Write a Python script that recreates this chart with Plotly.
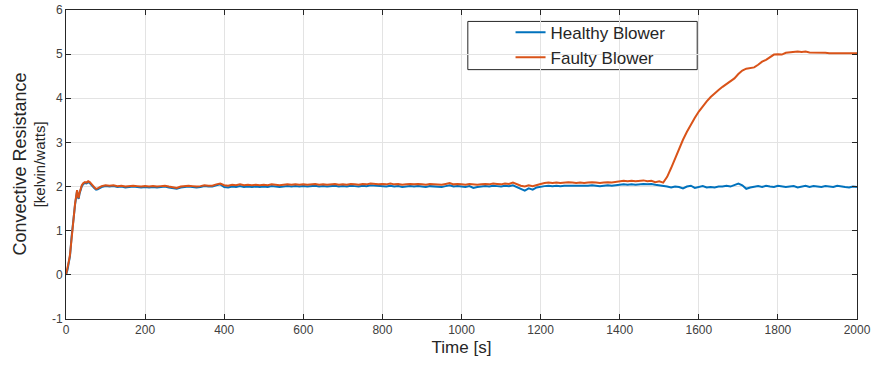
import plotly.graph_objects as go

# ---- data ----
t_early = [0, 4, 7, 10, 14, 18, 21, 23, 26, 28, 30, 32, 34, 37, 40, 44, 48, 52, 56, 60,
           64, 68, 72, 76, 80, 85, 90, 95]
faulty_early = [0.0, 0.15, 0.3, 0.45, 0.87, 1.25, 1.45, 1.62, 1.8, 1.92, 1.78, 1.74, 1.85, 1.97,
                2.03, 2.08, 2.1, 2.09, 2.12, 2.1, 2.05, 2.02, 1.98, 1.95, 1.96, 1.99, 2.01, 2.02]
healthy_early = [0.0, 0.12, 0.28, 0.42, 0.85, 1.22, 1.43, 1.6, 1.78, 1.9, 1.76, 1.72, 1.83, 1.95,
                 2.01, 2.06, 2.08, 2.07, 2.1, 2.08, 2.03, 2.0, 1.96, 1.93, 1.94, 1.97, 1.99, 2.0]

t_main = list(range(100, 2001, 10))

faulty_main = [
    2.03, 2.02, 2.03, 2.01, 2.02, 2.00, 2.01, 2.02, 2.01, 2.00,   # 100
    2.01, 2.00, 2.01, 2.00, 2.01, 2.02, 2.00, 1.98, 1.97, 2.00,   # 200
    2.01, 2.02, 2.01, 2.00, 2.01, 2.03, 2.02, 2.02, 2.05, 2.07,   # 300
    2.03, 2.02, 2.04, 2.03, 2.05, 2.03, 2.04, 2.03, 2.04, 2.03,   # 400
    2.04, 2.03, 2.05, 2.04, 2.03, 2.04, 2.05, 2.04, 2.05, 2.04,   # 500
    2.05, 2.04, 2.05, 2.06, 2.04, 2.05, 2.04, 2.05, 2.06, 2.04,   # 600
    2.05, 2.04, 2.06, 2.05, 2.04, 2.06, 2.05, 2.07, 2.06, 2.05,   # 700
    2.06, 2.05, 2.07, 2.05, 2.06, 2.04, 2.05, 2.06, 2.05, 2.06,   # 800
    2.05, 2.04, 2.06, 2.05, 2.05, 2.04, 2.06, 2.08, 2.05, 2.06,   # 900
    2.05, 2.04, 2.06, 2.05, 2.04, 2.05, 2.06, 2.05, 2.07, 2.06,   # 1000
    2.05, 2.07, 2.06, 2.09, 2.05, 2.02, 2.00, 2.03, 2.01, 2.04,   # 1100
    2.06, 2.08, 2.09, 2.08, 2.09, 2.08, 2.09, 2.10, 2.09, 2.08,   # 1200
    2.09, 2.08, 2.09, 2.10, 2.09, 2.08, 2.09, 2.10, 2.09, 2.10,   # 1300
    2.12, 2.13, 2.12, 2.13, 2.12, 2.13, 2.14, 2.12, 2.13, 2.10,   # 1400
    2.12, 2.09, 2.22, 2.42, 2.64, 2.86, 3.06, 3.24, 3.41, 3.56,   # 1500
    3.70, 3.82, 3.93, 4.03, 4.12, 4.19, 4.26, 4.32, 4.38, 4.45,   # 1600
    4.55, 4.63, 4.67, 4.68, 4.70, 4.76, 4.83, 4.87, 4.94, 4.99,   # 1700
    5.00, 4.99, 5.03, 5.04, 5.06, 5.06, 5.05, 5.06, 5.04, 5.04,   # 1800
    5.03, 5.04, 5.03, 5.02, 5.02, 5.02, 5.01, 5.02, 5.02, 5.02,   # 1900
    5.02,                                                         # 2000
]

healthy_main = [
    2.01, 2.00, 2.01, 1.99, 2.00, 1.98, 1.99, 2.00, 1.99, 1.98,   # 100
    1.99, 1.98, 1.99, 1.98, 1.99, 2.00, 1.98, 1.96, 1.95, 1.98,   # 200
    1.99, 2.00, 1.99, 1.98, 1.99, 2.01, 2.00, 2.00, 2.03, 2.05,   # 300
    1.99, 1.98, 2.00, 1.99, 2.01, 1.99, 2.00, 1.99, 2.00, 1.99,   # 400
    2.00, 1.99, 2.01, 2.00, 1.99, 2.00, 2.01, 2.00, 2.01, 2.00,   # 500
    2.01, 2.00, 2.01, 2.02, 2.00, 2.01, 2.00, 2.01, 2.02, 2.00,   # 600
    2.01, 2.00, 2.02, 2.01, 2.00, 2.02, 2.01, 2.03, 2.02, 2.01,   # 700
    2.01, 2.00, 2.02, 2.00, 2.01, 1.99, 2.00, 2.01, 2.00, 2.01,   # 800
    2.00, 1.99, 2.01, 2.00, 2.00, 1.99, 2.01, 2.03, 2.00, 2.01,   # 900
    2.00, 1.99, 2.01, 1.97, 1.99, 2.00, 2.01, 2.00, 2.02, 2.01,   # 1000
    2.00, 2.02, 2.01, 2.03, 1.99, 1.94, 1.91, 1.96, 1.93, 1.98,   # 1100
    2.00, 2.01, 2.02, 2.01, 2.02, 2.01, 2.02, 2.02, 2.01, 2.02,   # 1200
    2.02, 2.01, 2.02, 2.03, 2.02, 2.01, 2.02, 2.03, 2.02, 2.03,   # 1300
    2.04, 2.05, 2.04, 2.05, 2.04, 2.05, 2.06, 2.05, 2.06, 2.04,   # 1400
    2.03, 2.01, 2.00, 1.98, 2.00, 1.99, 1.96, 2.00, 2.02, 1.97,   # 1500
    1.99, 2.01, 1.98, 1.99, 1.98, 2.00, 2.00, 2.02, 2.00, 2.03,   # 1600
    2.07, 2.03, 1.95, 1.98, 2.00, 2.01, 1.99, 2.02, 2.00, 1.99,   # 1700
    2.02, 2.00, 1.99, 2.00, 2.01, 1.98, 2.00, 2.02, 1.99, 2.01,   # 1800
    2.00, 1.99, 2.01, 2.00, 1.99, 2.02, 2.00, 1.99, 1.98, 2.00,   # 1900
    1.99,                                                         # 2000
]

time_s = t_early + t_main
healthy = healthy_early + healthy_main
faulty = faulty_early + faulty_main

series_names = ["Healthy Blower", "Faulty Blower"]
x_ticks = [0, 200, 400, 600, 800, 1000, 1200, 1400, 1600, 1800, 2000]
y_ticks = [-1, 0, 1, 2, 3, 4, 5, 6]
y_tick_labels = ["-1", "0", "1", "2", "3", "4", "5", "6"]

FONT = "Liberation Sans, Arial, Helvetica, sans-serif"

# ---- figure ----
fig = go.Figure()
fig.add_trace(go.Scatter(x=time_s, y=healthy, mode="lines", name=series_names[0],
                         line=dict(color="#0072BD", width=2)))
fig.add_trace(go.Scatter(x=time_s, y=faulty, mode="lines", name=series_names[1],
                         line=dict(color="#D95319", width=2)))

axis_common = dict(
    showline=True, linecolor="#262626", linewidth=1, mirror="ticks",
    ticks="inside", ticklen=5, tickcolor="#262626", tickwidth=1,
    showgrid=True, gridcolor="#e3e3e3", gridwidth=1, zeroline=False,
    automargin=False,
    tickfont=dict(family=FONT, size=12, color="#404040"),
)

fig.update_layout(
    width=876, height=366,
    margin=dict(l=66, r=19, t=10, b=47),
    paper_bgcolor="white", plot_bgcolor="white",
    font=dict(family=FONT, color="#262626"),
    xaxis=dict(axis_common, range=[0, 2000], tickvals=x_ticks,
               title=dict(text="Time [s]", font=dict(size=17, color="#262626"), standoff=4)),
    yaxis=dict(axis_common, range=[-1, 6], tickvals=y_ticks, ticktext=y_tick_labels),
    legend=dict(x=0.562, y=0.985, xanchor="left", yanchor="top",
                bgcolor="rgba(0,0,0,0)", borderwidth=0,
                font=dict(family=FONT, size=17, color="#262626"),
                tracegroupgap=0),
    showlegend=True,
    shapes=[dict(type="rect", xref="paper", yref="paper",
                 x0=0.508, x1=0.798, y0=0.807, y1=0.963,
                 line=dict(color="#262626", width=1), fillcolor="white", layer="below")],
    annotations=[
        dict(text="Convective Resistance", xref="paper", yref="paper",
             x=-0.0594, y=0.5, xanchor="center", yanchor="middle", textangle=-90,
             showarrow=False, font=dict(family=FONT, size=18, color="#262626")),
        dict(text="[kelvin/watts]", xref="paper", yref="paper",
             x=-0.0331, y=0.5, xanchor="center", yanchor="middle", textangle=-90,
             showarrow=False, font=dict(family=FONT, size=15, color="#262626")),
    ],
)

fig.write_html("out.html")
